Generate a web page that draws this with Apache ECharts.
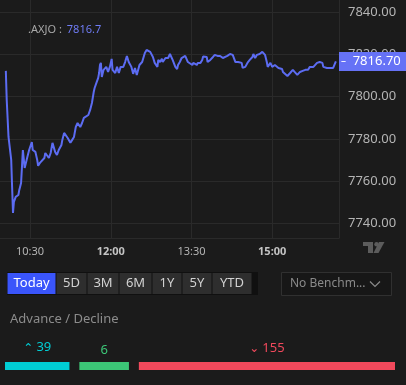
<!DOCTYPE html>
<html><head><meta charset="utf-8">
<script src="https://cdn.jsdelivr.net/npm/echarts@6/dist/echarts.min.js"></script>
<style>html,body{margin:0;padding:0;background:#1b1b1b;}#c{width:406px;height:385px;}</style>
</head><body><div id="c"></div>
<script>
// ---- data ----
const symbol = '.AXJO';
const lastPrice = 7816.7;
const sessionOpen = 600; // 10:00 in minutes of day
const minutesFromOpen = [3,4,6,9,10,11,12,14,17,18,20,21,22,24,26,27,29,32,33,36,38,39,41,43,46,47,49,51,53,55,56,58,60,62,65,66,68,70,72,75,77,79,81,83,86,88,90,92,95,97,99,101,102,104,106,107,108,109,110,112,115,117,119,121,122,125,127,129,131,134,136,138,140,143,145,147,149,152,155,158,160,162,164,166,167,169,172,173,175,177,178,181,183,184,186,188,189,192,194,195,197,199,201,203,205,206,208,211,212,214,216,217,220,222,223,225,227,228,231,233,234,236,239,240,242,244,245,247,250,251,253,255,256,259,261,262,264,266,267,270,272,273,275,278,279,281,283,284,286,289,290,292,294,295,298,300,301,303,305,307,309,311,312,314,317,318,320,322,323,325,328,329,331,333,334,337,339,340,342,344,346,348,350,351,353,356,357,358,361,364,368,370,371];
const prices = [7812.2,7798.4,7780.9,7770.0,7757.2,7744.9,7750.1,7752.5,7753.4,7755.8,7759.1,7766.7,7774.7,7766.2,7765.3,7771.4,7774.7,7778.5,7774.7,7773.8,7770.0,7767.2,7768.6,7768.6,7770.9,7773.3,7772.4,7770.9,7773.3,7778.1,7778.5,7773.8,7772.4,7774.7,7777.1,7779.5,7782.8,7782.8,7780.4,7778.1,7779.5,7780.9,7785.6,7787.5,7785.6,7787.5,7789.9,7790.8,7791.3,7793.7,7797.0,7802.2,7804.1,7806.5,7808.9,7811.2,7815.0,7816.0,7809.3,7812.7,7814.1,7811.7,7814.1,7817.9,7812.7,7811.2,7814.1,7811.2,7814.1,7814.1,7816.4,7819.3,7816.4,7814.1,7810.8,7813.6,7810.3,7815.0,7816.4,7820.7,7822.1,7822.6,7821.2,7820.7,7818.8,7816.0,7814.1,7817.4,7816.4,7817.9,7816.4,7818.3,7818.8,7818.3,7820.2,7820.7,7817.4,7814.1,7813.1,7815.0,7816.4,7818.3,7818.8,7819.3,7818.8,7816.4,7816.0,7815.0,7816.0,7816.0,7815.0,7816.0,7816.0,7817.4,7819.0,7819.8,7818.8,7816.4,7817.4,7817.9,7818.8,7819.8,7819.3,7818.8,7819.3,7818.8,7818.3,7818.8,7819.3,7819.8,7820.2,7819.3,7819.8,7816.4,7816.4,7816.4,7816.0,7816.0,7813.6,7814.1,7815.0,7816.4,7817.4,7818.8,7820.2,7818.3,7819.8,7820.7,7820.2,7821.2,7822.1,7819.8,7816.4,7814.1,7816.0,7814.1,7815.0,7815.0,7814.1,7813.6,7814.1,7813.1,7811.7,7811.2,7809.8,7810.3,7811.2,7811.7,7812.7,7811.7,7810.3,7811.2,7811.7,7811.2,7812.2,7812.7,7813.6,7812.7,7814.1,7813.6,7814.1,7814.1,7816.0,7816.4,7816.4,7816.0,7814.1,7813.6,7813.6,7813.6,7813.6,7814.1,7816.7];
const xTickLabels = ['10:30','12:00','13:30','15:00'];
const boldTickLabels = ['12:00','15:00'];
const yTickValues = [7740,7760,7780,7800,7820,7840];
const rangeButtons = ['Today','5D','3M','6M','1Y','5Y','YTD'];
const benchmarkText = 'No Benchm...';
const breadthTitle = 'Advance / Decline';
const breadthNames = ['Advance','Unchanged','Decline'];
const breadthValues = [39,6,155];

// ---- helpers ----
const toMin = s => { const [h,m] = s.split(':').map(Number); return h*60+m; };
const fmtMin = v => { const h = Math.floor(v/60), m = Math.round(v - h*60); return h + ':' + String(m).padStart(2,'0'); };
const seriesData = minutesFromOpen.map((m,i) => [sessionOpen + m, prices[i]]);
const xTickValues = xTickLabels.map(toMin);

// breadth bar layout (min visible width for tiny segment, gaps between)
const minSegUnits = 30, gapUnits = 6;
const shown = breadthValues.map((v,i) => i === 1 ? Math.max(v, minSegUnits) : v);
const breadthTotal = shown.reduce((a,b)=>a+b,0) + 2*gapUnits;
const breadthColors = ['#00cdd4','#3cc677','#f2495c'];

const chart = echarts.init(document.getElementById('c'), null, {renderer:'canvas'});
const FONT = 'Noto Sans';
const gridColor = '#2a2a2a';
const lineColor = '#5c6cf2';

function barSeries(name, value, color, label) {
  return {
    type:'bar', name, xAxisIndex:1, yAxisIndex:1, stack:'ad', barWidth:8,
    data:[value], itemStyle:{color}, silent:true,
    label: label ? Object.assign({show:true, position:'top', distance:7, fontFamily:FONT}, label) : {show:false}
  };
}

// button layout graphic (UI chrome)
const btnW = [49,31,32,33,30,30,40];
let bx = 7.5;
const btnEls = [{type:'rect', shape:{x:7,y:272,width:251,height:23}, style:{fill:'#101010'}}];
rangeButtons.forEach((t,i) => {
  const w = btnW[i];
  btnEls.push({type:'rect', shape:{x:bx,y:273,width:w-1,height:21}, style:{fill: i===0 ? '#3a55fb' : '#2e2e2e'}});
  btnEls.push({type:'text', x:bx+(w-1)/2, y:283.5, style:{text:t, fill: i===0 ? '#ffffff' : '#d2d2d2', font:'13px "'+FONT+'"', textAlign:'center', textVerticalAlign:'middle'}});
  bx += w;
});

const option = {
  backgroundColor:'#1b1b1b',
  animation:false,
  title:{
    text:'{a|' + symbol + ' :} {b|' + lastPrice.toFixed(1) + '}',
    left:23, top:16,
    textStyle:{fontWeight:'normal', rich:{a:{color:'#a8a8a8', fontSize:11, fontWeight:'normal', fontFamily:FONT}, b:{color:'#6f7cf5', fontSize:11, fontWeight:'normal', fontFamily:FONT}}}
  },
  grid:[
    {left:0, right:67, top:0, bottom:147},
    {left:5, right:11, top:362, height:8}
  ],
  xAxis:[
    {type:'value', min:596.5, max:974.5, gridIndex:0,
     axisLine:{show:true, lineStyle:{color:gridColor}},
     axisTick:{show:false, customValues:xTickValues},
     splitLine:{show:true, lineStyle:{color:gridColor, width:1}},
     axisLabel:{customValues:xTickValues, margin:8, color:'#b4b4b4', fontSize:11, fontFamily:FONT,
       formatter:v => { const s = fmtMin(v); return boldTickLabels.includes(s) ? '{b|'+s+'}' : s; },
       rich:{b:{fontWeight:'bold', color:'#c4c4c4', fontSize:11, fontFamily:FONT}}}
    },
    {type:'value', gridIndex:1, min:0, max:breadthTotal, show:false}
  ],
  yAxis:[
    {type:'value', position:'right', min:7733, max:7845.8, gridIndex:0,
     axisLine:{show:true, lineStyle:{color:gridColor}},
     axisTick:{show:false, customValues:yTickValues},
     splitLine:{show:true, lineStyle:{color:gridColor, width:1}},
     axisLabel:{customValues:yTickValues, margin:9, color:'#b4b4b4', fontSize:13, fontFamily:FONT,
       formatter:v => v.toFixed(2)}
    },
    {type:'category', gridIndex:1, data:['ad'], show:false}
  ],
  series:[
    {type:'line', data:seriesData, showSymbol:false, symbol:'none', silent:true, clip:false,
     lineStyle:{color:lineColor, width:2}, z:3,
     markLine:{silent:true, symbol:['none','none'], animation:false,
       lineStyle:{color:'rgba(0,0,0,0)', width:0},
       data:[{yAxis:lastPrice}],
       label:{show:true, position:'end', distance:0, formatter:'{d|–}  {v|' + lastPrice.toFixed(2) + '}',
         backgroundColor:'#6672f6', padding:[3,6,3,2],
         rich:{d:{color:'#ffffff', fontSize:10, fontFamily:FONT}, v:{color:'#ffffff', fontSize:13, fontFamily:FONT}}}
     }
    },
    barSeries(breadthNames[0], shown[0], breadthColors[0], {formatter:'{c|⌃} {n|' + breadthValues[0] + '}', rich:{c:{color:breadthColors[0], fontSize:12, fontFamily:'DejaVu Sans', padding:[4,0,0,0]}, n:{color:breadthColors[0], fontSize:13, fontFamily:FONT}}}),
    barSeries('gap1', gapUnits, 'transparent', null),
    barSeries(breadthNames[1], shown[1], breadthColors[1], {formatter:String(breadthValues[1]), color:breadthColors[1], fontSize:13, distance:5}),
    barSeries('gap2', gapUnits, 'transparent', null),
    barSeries(breadthNames[2], shown[2], breadthColors[2], {formatter:'{c|⌄} {n|' + breadthValues[2] + '}', rich:{c:{color:breadthColors[2], fontSize:12, fontFamily:'DejaVu Sans'}, n:{color:breadthColors[2], fontSize:13, fontFamily:FONT}}})
  ],
  graphic:[
    // TradingView logo
    {type:'group', children:[
      {type:'polygon', shape:{points:[[363,242],[373,242],[373,253],[368,253],[368,246],[363,246]]}, style:{fill:'#5c5c5c'}},
      {type:'circle', shape:{cx:376.5, cy:244.2, r:2.2}, style:{fill:'#5c5c5c'}},
      {type:'polygon', shape:{points:[[379,242],[384.5,242],[378.5,253],[373.5,253]]}, style:{fill:'#5c5c5c'}}
    ]},
    {type:'group', children:btnEls},
    {type:'rect', shape:{x:281.5,y:272.5,width:110,height:23}, style:{fill:'#171717', stroke:'#303030', lineWidth:1}},
    {type:'text', x:290, y:284, style:{text:benchmarkText, fill:'#8a8a8a', font:'12px "'+FONT+'"', textVerticalAlign:'middle'}},
    {type:'polyline', shape:{points:[[370,281.5],[375,286.5],[380,281.5]]}, style:{stroke:'#8a8a8a', lineWidth:1.2, fill:null}},
    {type:'text', x:10, y:319, style:{text:breadthTitle, fill:'#8c8c8c', font:'13px "'+FONT+'"', textVerticalAlign:'middle'}}
  ]
};
chart.setOption(option);
</script>
</body></html>
